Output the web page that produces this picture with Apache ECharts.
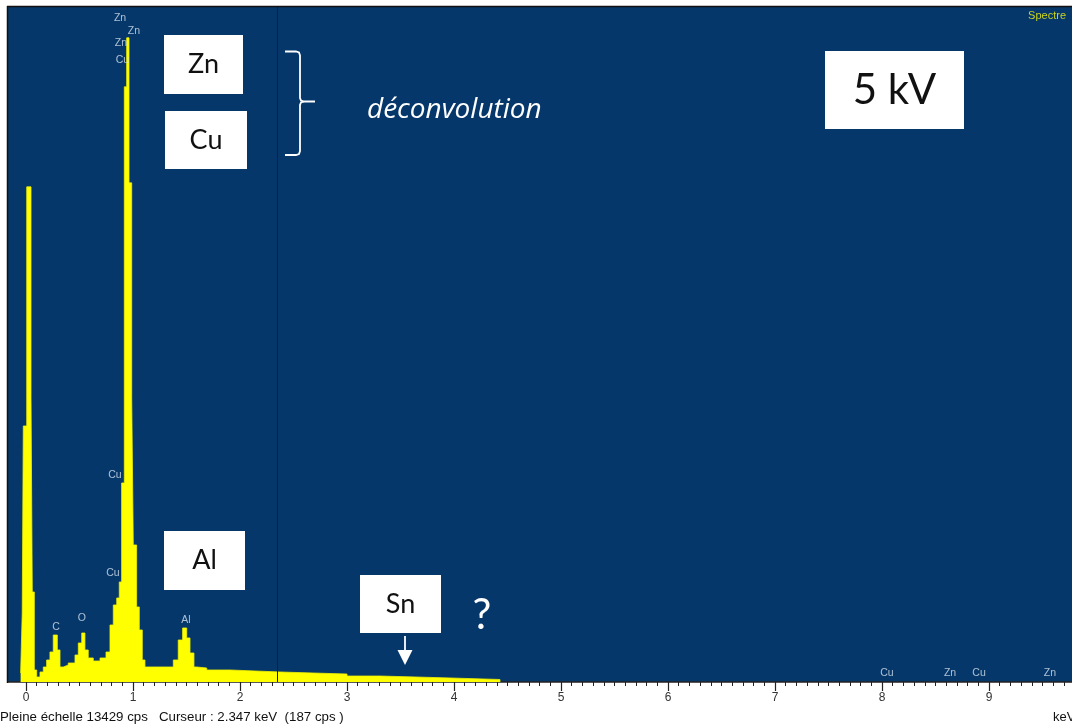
<!DOCTYPE html>
<html>
<head>
<meta charset="utf-8">
<script src="https://cdn.jsdelivr.net/npm/echarts@6/dist/echarts.min.js"></script>
<style>
html,body{margin:0;padding:0;background:#fff;}
#chart{width:1072px;height:725px;}
</style>
</head>
<body>
<div id="chart"></div>
<script>
// Spectrum histogram: left edge of each channel group (keV) and counts (cps)
const energyKeV = [-0.050,-0.035,-0.025,0.007,0.047,0.059,0.078,0.100,0.131,0.162,0.193,0.224,0.255,0.293,0.318,0.349,0.395,0.458,0.489,0.521,0.551,0.582,0.629,0.692,0.748,0.785,0.816,0.848,0.872,0.894,0.919,0.941,0.963,0.988,1.003,1.034,1.059,1.087,1.112,1.377,1.423,1.464,1.502,1.533,1.570,1.595,1.689,1.907,2.140,2.374,2.682,3.000,3.308,3.636,3.963,4.430];
const countsCps = [179,1373,5094,9851,5672,1791,239,100,199,299,438,597,935,637,299,338,378,537,776,975,637,478,418,478,597,1134,1532,1672,1990,3960,11841,12816,9930,5672,2726,1493,1035,438,299,438,836,1075,876,577,299,279,239,219,199,179,159,119,100,80,50,0];

// Element line labels (keV position, label height in cps, symbol)
const lineLabelE = [0.879,1.009,0.888,0.902,0.832,0.813,0.280,0.523,1.495,8.047,8.636,8.907,9.570];
const lineLabelY = [13213,12955,12716,12378,4119,2169,1095,1274,1234,179,179,179,179];
const lineLabelText = ['Zn','Zn','Zn','Cu','Cu','Cu','C','O','Al','Cu','Zn','Cu','Zn'];

// Axis ticks (keV)
const majorTicks = [0,1,2,3,4,5,6,7,8,9];
const fullScaleCps = 13429;
const cursorKeV = 2.347;
const xMinKeV = -0.168, xMaxKeV = 9.776;

const minorTicks = [];
for (let i = 0; i <= 97; i++) minorTicks.push(+(i / 10).toFixed(1));

const specData = energyKeV.map((e, i) => [e, countsCps[i]]);
const labelData = lineLabelE.map((e, i) => ({ value: [e, lineLabelY[i]], name: lineLabelText[i] }));

const chart = echarts.init(document.getElementById('chart'), null, { renderer: 'canvas' });
const WHITE = '#ffffff';
const boxFont = 'Lato, "Open Sans", sans-serif';
const uiFont = '"Liberation Sans", Arial, sans-serif';

function box(x, y, w, h, text, size) {
  return [
    { type: 'rect', z: 50, shape: { x: x, y: y, width: w, height: h }, style: { fill: WHITE } },
    { type: 'text', z: 51, x: x + w / 2, y: y + h / 2, style: { text: text, fill: '#111', font: size + 'px ' + boxFont, textAlign: 'center', textVerticalAlign: 'middle' } }
  ];
}

const axisCommon = {
  type: 'value', min: xMinKeV, max: xMaxKeV, position: 'bottom',
  splitLine: { show: false }
};

const graphics = [].concat(
  [
    { type: 'line', shape: { x1: 7.5, y1: 6, x2: 7.5, y2: 683 }, style: { stroke: '#111', lineWidth: 1.5 }, z: 60 },
    { type: 'line', shape: { x1: 7, y1: 6.5, x2: 1072, y2: 6.5 }, style: { stroke: '#111', lineWidth: 1.5 }, z: 60 },
    { type: 'text', x: 1066, y: 16, style: { text: 'Spectre', fill: '#c8d41e', font: '11px ' + uiFont, textAlign: 'right', textVerticalAlign: 'middle' }, z: 60 }
  ],
  box(164, 35, 79, 59, 'Zn', 27),
  box(165, 111, 82, 58, 'Cu', 27),
  box(164, 531, 81, 59, 'Al', 27),
  box(360, 575, 81, 58, 'Sn', 27),
  box(825, 51, 139, 78, '5 kV', 42),
  [
    { type: 'polyline', z: 55, shape: { points: [[285,51.5],[296,51.5],[299,52.5],[300,55.5],[300,98],[301,100.5],[304,101.5],[315,101.5]] }, style: { stroke: WHITE, lineWidth: 1.8, fill: null } },
    { type: 'polyline', z: 55, shape: { points: [[304,101.5],[301,102.5],[300,105],[300,151],[299,154],[296,155],[285,155]] }, style: { stroke: WHITE, lineWidth: 1.8, fill: null } },
    { type: 'text', x: 367, y: 110, z: 55, style: { text: 'déconvolution', fill: WHITE, font: 'italic 28px "Open Sans", Lato, sans-serif', textVerticalAlign: 'middle' } },
    { type: 'text', x: 482, y: 615, z: 55, style: { text: '?', fill: WHITE, font: '42px ' + boxFont, textAlign: 'center', textVerticalAlign: 'middle' } },
    { type: 'line', z: 55, shape: { x1: 405, y1: 636, x2: 405, y2: 652 }, style: { stroke: WHITE, lineWidth: 1.8 } },
    { type: 'polygon', z: 55, shape: { points: [[397.5, 650], [412.5, 650], [405, 665]] }, style: { fill: WHITE } },
    { type: 'text', x: 0, y: 717, z: 60, style: { text: 'Pleine échelle 13429 cps   Curseur : 2.347 keV  (187 cps )', fill: '#111', font: '13.3px ' + uiFont, textVerticalAlign: 'middle' } },
    { type: 'text', x: 1053, y: 717, z: 60, style: { text: 'keV', fill: '#111', font: '13px ' + uiFont, textVerticalAlign: 'middle' } }
  ]
);

chart.setOption({
  animation: false,
  backgroundColor: '#ffffff',
  grid: { left: 8, right: 0, top: 7, bottom: 43, show: true, backgroundColor: '#06376a', borderWidth: 0 },
  xAxis: [
    Object.assign({}, axisCommon, {
      axisLine: { show: true, onZero: false, lineStyle: { color: '#222', width: 1.5 } },
      axisTick: { show: true, inside: false, length: 4, customValues: minorTicks, lineStyle: { color: '#222', width: 1 } },
      axisLabel: { show: false }
    }),
    Object.assign({}, axisCommon, {
      axisLine: { show: false, onZero: false },
      axisTick: { show: true, inside: false, length: 9, customValues: majorTicks, lineStyle: { color: '#222', width: 1.2 } },
      axisLabel: { show: true, customValues: majorTicks, color: '#333', fontSize: 12, fontFamily: uiFont, margin: 10 }
    })
  ],
  yAxis: { type: 'value', min: 0, max: fullScaleCps, show: false, splitLine: { show: false } },
  series: [
    {
      type: 'line', xAxisIndex: 0, data: specData, step: 'end', symbol: 'none',
      lineStyle: { color: '#f0f000', width: 0.8 },
      areaStyle: { color: '#ffff00', opacity: 1 },
      z: 2,
      markLine: {
        silent: true, symbol: ['none', 'none'], label: { show: false },
        lineStyle: { color: '#15202b', width: 1, type: 'solid' },
        data: [{ xAxis: cursorKeV }]
      }
    },
    {
      type: 'scatter', xAxisIndex: 0, data: labelData, symbolSize: 0, z: 5,
      label: { show: true, position: 'inside', formatter: p => p.name, color: '#d5e2ef', fontSize: 10.5, fontFamily: uiFont }
    }
  ],
  graphic: graphics
});
</script>
</body>
</html>
